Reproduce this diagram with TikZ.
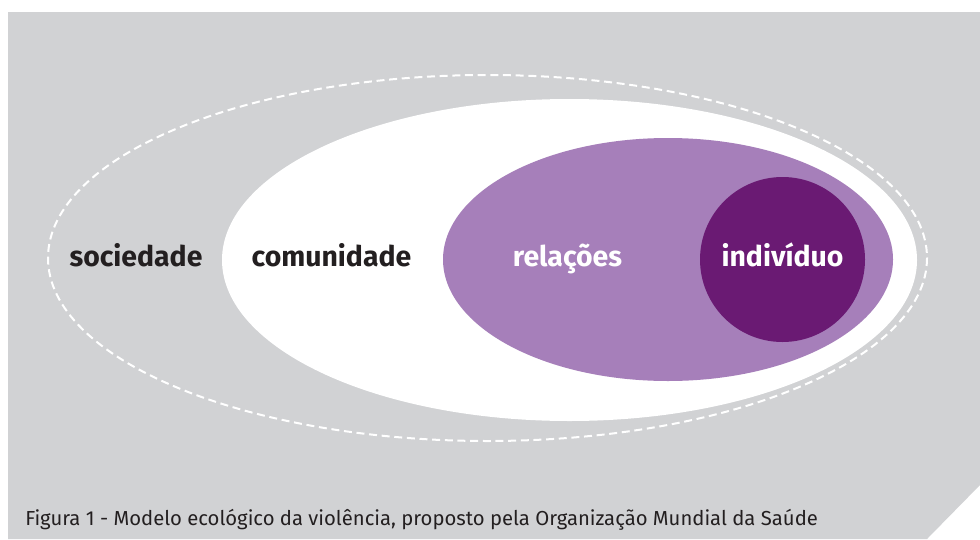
\documentclass[tikz,border=0pt]{standalone}
\usepackage{fontspec}
\setmainfont{Fira Sans}
\usetikzlibrary{positioning}
\definecolor{fundo}{HTML}{D1D2D4}
\definecolor{lilas}{HTML}{A67FBA}
\definecolor{roxo}{HTML}{6A1A73}
\definecolor{texto}{HTML}{231F20}
\tikzset{rotulo/.style = {font = \bfseries\fontsize{21.3}{25}\selectfont, inner sep = 0, anchor = base}}
\tikzset{legenda/.style = {font = \fontsize{15.2}{18}\selectfont, text = texto, inner sep = 0, anchor = base west}}

\begin{document}
\begin{tikzpicture}[x = 0.75pt, y = -0.75pt]
  \useasboundingbox (0, 0) rectangle (980, 539);
  \fill [fundo] (8, 12) -- (980, 12) -- (980, 485) -- (927, 539) -- (8, 539) -- cycle;
  \draw [white, line width = 1.5, dash pattern = on 6pt off 3.5pt] (487.5, 258) ellipse [x radius = 439.5, y radius = 183];
  \fill [white] (569.5, 260) ellipse [x radius = 347.5, y radius = 161];
  \fill [lilas] (668, 259.5) ellipse [x radius = 225, y radius = 121.5];
  \fill [roxo] (782.5, 259.5) circle [radius = 82.5];
  \node [rotulo, text = texto] (sociedade) at (136, 266) {sociedade};
  \node [rotulo, text = texto] (comunidade) at (331.5, 266) {comunidade};
  \node [rotulo, text = white] (relacoes) at (567.5, 266) {relações};
  \node [rotulo, text = white] (individuo) at (782.5, 266) {indivíduo};
  \node [legenda] (legenda) at (25, 525) {Figura 1 - Modelo ecológico da violência, proposto pela Organização Mundial da Saúde};
\end{tikzpicture}
\end{document}
